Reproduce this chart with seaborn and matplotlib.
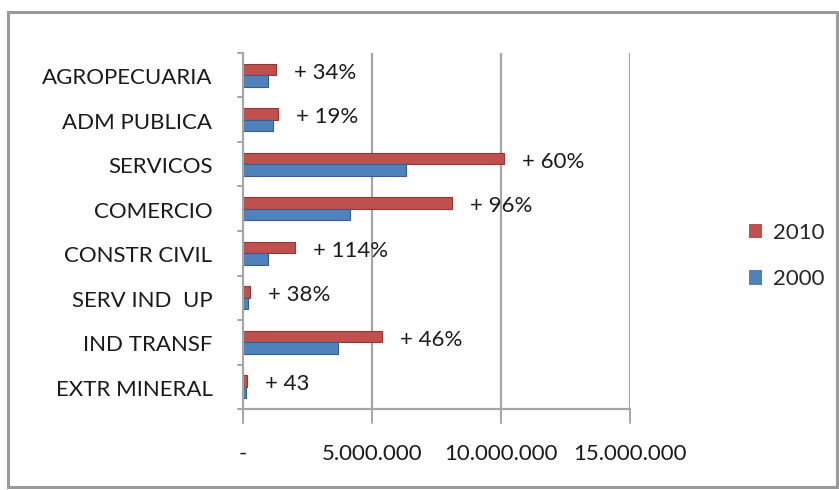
import numpy as np
import pandas as pd
import matplotlib
matplotlib.use("Agg")
import matplotlib.pyplot as plt
import matplotlib.patches as mpatches
import matplotlib.transforms as mtransforms
import seaborn as sns

# Data (values in people)
categories = ["AGROPECUARIA", "ADM PUBLICA", "SERVICOS", "COMERCIO",
              "CONSTR CIVIL", "SERV IND  UP", "IND TRANSF", "EXTR MINERAL"]
values_2000 = [950000, 1150000, 6300000, 4150000, 950000, 200000, 3700000, 120000]
values_2010 = [1270000, 1370000, 10100000, 8100000, 2030000, 280000, 5400000, 170000]
growth_labels = ["+ 34%", "+ 19%", "+ 60%", "+ 96%", "+ 114%", "+ 38%", "+ 46%", "+ 43"]
x_ticks = [0, 5000000, 10000000, 15000000]
x_tick_labels = ["-", "5.000.000", "10.000.000", "15.000.000"]

RED = "#C0504D"
BLUE = "#4F81BD"
GRID = "#A6A6A6"
FONT = "Lato"
FS = 16

df = pd.DataFrame({
    "setor": categories * 2,
    "ano": ["2010"] * len(categories) + ["2000"] * len(categories),
    "valor": values_2010 + values_2000,
})

sns.set_theme(style="white")
plt.rcParams["font.family"] = [FONT, "DejaVu Sans"]

W, H = 839, 490
fig = plt.figure(figsize=(W / 100, H / 100), dpi=100)

# outer chart frame
fig.add_artist(mpatches.Rectangle((8 / W, 3 / H), 829 / W, 475 / H,
                                  transform=fig.transFigure, fill=False,
                                  edgecolor="#9A9A9A", linewidth=2.2))

ax = fig.add_axes([243 / W, (H - 409) / H, (630 - 243) / W, (409 - 53) / H])
sns.barplot(data=df, y="setor", x="valor", hue="ano", hue_order=["2010", "2000"],
            palette={"2010": RED, "2000": BLUE}, orient="h", width=0.52,
            ax=ax, edgecolor="none", saturation=1, legend=True)

# darker edge on each bar for the Excel 3D look
for p in ax.patches:
    if p.get_width() > 0:
        fc = p.get_facecolor()
        dark = tuple(c * 0.72 for c in fc[:3])
        p.set_edgecolor(dark)
        p.set_linewidth(0.8)

ax.set_xlim(0, 15000000)
ax.set_ylim(len(categories) - 0.5, -0.5)
ax.set_xticks(x_ticks)
ax.set_xticklabels(x_tick_labels, fontsize=FS, color="#1a1a1a")
ax.tick_params(axis="x", pad=25, length=0)
ax.set_yticks(range(len(categories)))
ax.set_yticklabels(categories, fontsize=FS, color="#1a1a1a", va="center")
ax.tick_params(axis="y", length=0, pad=22)
# category labels sit a few pixels lower than the bars (3D offset)
shift = mtransforms.ScaledTranslation(0, -3 / 100, fig.dpi_scale_trans)
for t in ax.get_yticklabels():
    t.set_transform(t.get_transform() + shift)
ax.set_xlabel("")
ax.set_ylabel("")

# vertical gridlines (back wall)
for xv in x_ticks[1:]:
    ax.axvline(xv, color=GRID, linewidth=1.6, zorder=0)

# small ticks at category boundaries and value ticks
for yb in np.arange(-0.5, len(categories) + 0.5, 1):
    ax.plot([-0.012, 0], [yb, yb], transform=ax.get_yaxis_transform(),
            color=GRID, linewidth=1.4, clip_on=False)
for xv in x_ticks:
    ax.plot([xv, xv], [0, -0.04], transform=ax.get_xaxis_transform(),
            color=GRID, linewidth=1.4, clip_on=False)

for side in ["top", "right"]:
    ax.spines[side].set_visible(False)
for side in ["left", "bottom"]:
    ax.spines[side].set_color(GRID)
    ax.spines[side].set_linewidth(1.6)

# growth labels next to the 2010 bars
for i, (v, lab) in enumerate(zip(values_2010, growth_labels)):
    ax.text(v + 700000, i - 0.06, lab, fontsize=FS, color="#1a1a1a",
            va="center", ha="left")

# legend on the right
handles, labels = ax.get_legend_handles_labels()
ax.legend_.remove()
fig.legend(handles, labels, loc="center left", bbox_to_anchor=(729 / W, 1 - 256 / H),
           frameon=False, fontsize=FS, handlelength=0.6, handleheight=0.6,
           handletextpad=0.5, labelspacing=1.2)

fig.savefig("out.png", dpi=100)
